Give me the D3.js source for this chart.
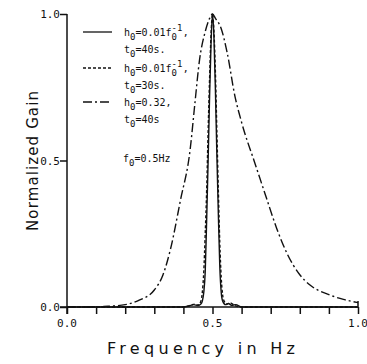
<!DOCTYPE html>
<html>
<head>
<meta charset="utf-8">
<script src="https://cdn.jsdelivr.net/npm/d3@7.9.0/dist/d3.min.js"></script>
<style>
  body { margin: 0; background: #fff; }
  svg { display: block; }
  text { fill: #111; }
</style>
</head>
<body>
<svg width="367" height="364"></svg>
<script>
// Data
const broadFreq = [0.0, 0.10, 0.15, 0.20, 0.25, 0.30, 0.33, 0.355, 0.39, 0.423, 0.44, 0.455, 0.475, 0.49, 0.50, 0.51, 0.53, 0.55, 0.577, 0.60, 0.646, 0.686, 0.72, 0.755, 0.80, 0.835, 0.90, 0.95, 1.0];
const broadGain = [0.0, 0.0, 0.003, 0.008, 0.024, 0.058, 0.11, 0.195, 0.365, 0.536, 0.70, 0.84, 0.94, 0.985, 1.0, 0.985, 0.95, 0.87, 0.72, 0.63, 0.49, 0.37, 0.27, 0.185, 0.11, 0.075, 0.042, 0.026, 0.015];

const solidFreq = [0.0, 0.40, 0.42, 0.435, 0.45, 0.46, 0.465, 0.47, 0.475, 0.48, 0.485, 0.49, 0.495, 0.50, 0.505, 0.51, 0.515, 0.52, 0.525, 0.53, 0.535, 0.545, 0.555, 0.565, 0.58, 0.60, 1.0];
const solidGain = [0.0, 0.0, 0.004, 0.008, 0.005, 0.01, 0.02, 0.05, 0.12, 0.3, 0.5, 0.72, 0.9, 1.0, 0.92, 0.74, 0.52, 0.32, 0.14, 0.05, 0.02, 0.008, 0.012, 0.006, 0.008, 0.0, 0.0];

const dashFreq = [0.0, 0.40, 0.425, 0.44, 0.45, 0.46, 0.465, 0.47, 0.475, 0.48, 0.485, 0.49, 0.495, 0.50, 0.505, 0.51, 0.515, 0.52, 0.525, 0.53, 0.535, 0.54, 0.55, 0.56, 0.575, 0.60, 1.0];
const dashGain = [0.0, 0.0, 0.006, 0.01, 0.006, 0.02, 0.05, 0.12, 0.25, 0.4, 0.6, 0.78, 0.93, 1.0, 0.94, 0.8, 0.6, 0.4, 0.22, 0.1, 0.04, 0.02, 0.01, 0.014, 0.006, 0.0, 0.0];

const xTicks = [0, 0.1, 0.2, 0.3, 0.4, 0.5, 0.6, 0.7, 0.8, 0.9, 1.0];
const xLabels = [0, 0.5, 1.0];
const yTicks = [0, 0.5, 1.0];

const svg = d3.select('svg');

// Scales
const x = d3.scaleLinear().domain([0, 1]).range([67, 358]);
const y = d3.scaleLinear().domain([0, 1]).range([307, 14]);

// Axes
const xAxis = d3.axisBottom(x).tickValues(xTicks).tickSize(7).tickFormat('');
svg.append('g')
    .attr('transform', `translate(0,${y(0)})`)
    .call(xAxis)
    .call(g => g.select('.domain').attr('d', `M${x(0) - 7},0H${x(1)}`));

const yAxis = d3.axisLeft(y).tickValues(yTicks).tickSize(7).tickFormat('');
svg.append('g')
    .attr('transform', `translate(${x(0)},0)`)
    .call(yAxis)
    .call(g => g.select('.domain').attr('d', `M0,${y(1)}V${y(0) + 7}`));

svg.selectAll('.domain, .tick line')
    .attr('stroke', '#111')
    .attr('stroke-width', 1.5);

// Right end tick at 1.0 sticks up a little
svg.append('line')
    .attr('x1', x(1)).attr('x2', x(1))
    .attr('y1', y(0) - 6).attr('y2', y(0))
    .attr('stroke', '#111').attr('stroke-width', 1.5);

// Tick labels
svg.append('g').selectAll('text')
    .data(xLabels)
    .join('text')
    .attr('x', d => x(d))
    .attr('y', 327)
    .attr('text-anchor', 'middle')
    .style('font', '11px "DejaVu Sans Mono"')
    .text(d => d.toFixed(1));

svg.append('g').selectAll('text')
    .data(yTicks)
    .join('text')
    .attr('x', 60)
    .attr('y', d => y(d) + 4)
    .attr('text-anchor', 'end')
    .style('font', '11px "DejaVu Sans Mono"')
    .text(d => d.toFixed(1));

// Axis titles
svg.append('text')
    .attr('x', 107)
    .attr('y', 354)
    .attr('textLength', 188)
    .attr('lengthAdjust', 'spacing')
    .style('font', '16px "DejaVu Sans"')
    .text('Frequency in Hz');

svg.append('text')
    .attr('transform', 'translate(38,231) rotate(-90)')
    .attr('textLength', 140)
    .attr('lengthAdjust', 'spacing')
    .style('font', '15px "DejaVu Sans"')
    .text('Normalized Gain');

// Curves
const series = [
    { f: broadFreq, g: broadGain, dash: '9,3,2,3' },
    { f: dashFreq, g: dashGain, dash: '3,2' },
    { f: solidFreq, g: solidGain, dash: null },
];

const line = d3.line()
    .x(d => x(d[0]))
    .y(d => y(d[1]))
    .curve(d3.curveMonotoneX);

series.forEach(s => {
    svg.append('path')
        .attr('d', line(d3.zip(s.f, s.g)))
        .attr('fill', 'none')
        .attr('stroke', '#111')
        .attr('stroke-width', 1.4)
        .attr('stroke-dasharray', s.dash);
});

// Legend
const legend = [
    { dash: null, y: 32, h: '0.01', inv: true, t: '40s.' },
    { dash: '3,2', y: 68, h: '0.01', inv: true, t: '30s.' },
    { dash: '9,3,2,3', y: 102, h: '0.32,', inv: false, t: '40s' },
];

const mono = '10px "DejaVu Sans Mono"';
legend.forEach(d => {
    svg.append('line')
        .attr('x1', 83).attr('x2', 112)
        .attr('y1', d.y).attr('y2', d.y)
        .attr('stroke', '#111')
        .attr('stroke-width', 1.3)
        .attr('stroke-dasharray', d.dash);

    let t1 = svg.append('text')
        .attr('x', 124).attr('y', d.y + 4)
        .style('font', mono);
    t1.append('tspan').text('h');
    t1.append('tspan').attr('dy', 4).style('font-size', '9px').text('0');
    t1.append('tspan').attr('dy', -4).text('=' + d.h);
    if (d.inv) {
        t1.append('tspan').text('f');
        t1.append('tspan').attr('dy', -5).style('font-size', '9px').text('-1');
        t1.append('tspan').attr('dx', -11).attr('dy', 9).style('font-size', '9px').text('0');
        t1.append('tspan').attr('dx', 6).attr('dy', -4).text(',');
    }

    let t2 = svg.append('text')
        .attr('x', 124).attr('y', d.y + 21)
        .style('font', mono);
    t2.append('tspan').text('t');
    t2.append('tspan').attr('dy', 4).style('font-size', '9px').text('0');
    t2.append('tspan').attr('dy', -4).text('=' + d.t);
});

let f0 = svg.append('text')
    .attr('x', 123).attr('y', 162)
    .style('font', mono);
f0.append('tspan').text('f');
f0.append('tspan').attr('dy', 4).style('font-size', '9px').text('0');
f0.append('tspan').attr('dy', -4).text('=0.5Hz');
</script>
</body>
</html>
